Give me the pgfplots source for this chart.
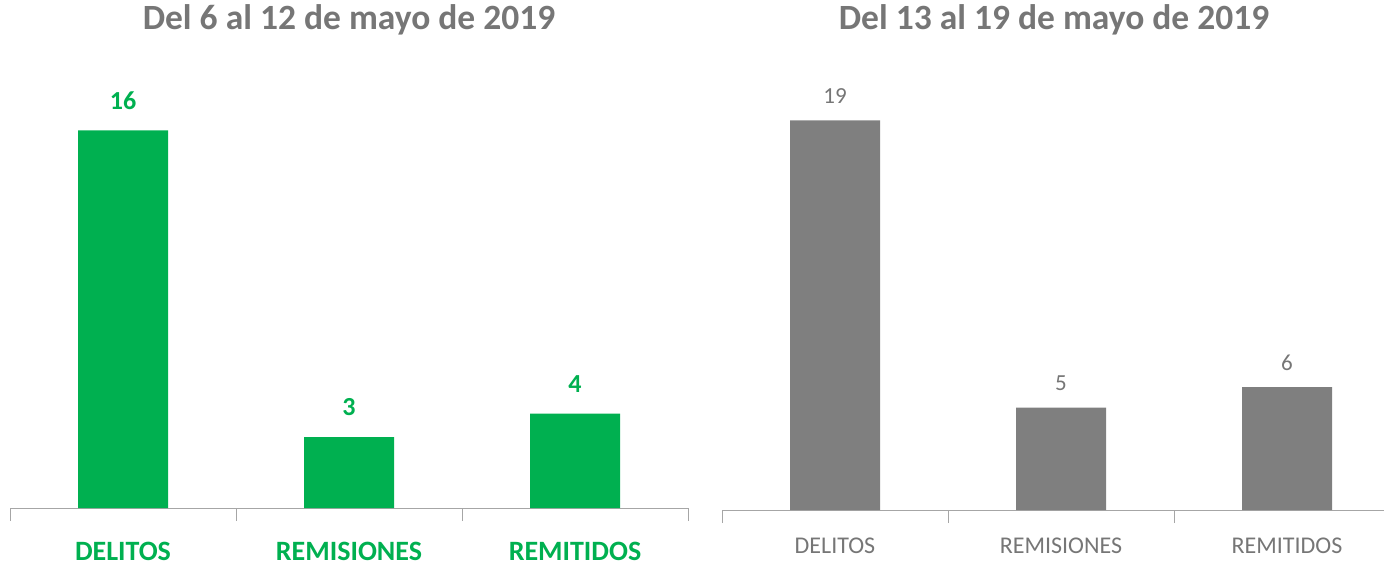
\documentclass[border=0pt]{standalone}
\usepackage{fontspec}
\setmainfont{Carlito}
\usepackage{pgfplots}
\pgfplotsset{compat=1.18}
\definecolor{vgreen}{RGB}{0,176,80}
\definecolor{bgray}{RGB}{127,127,127}
\definecolor{tgray}{RGB}{118,118,118}
\definecolor{lgray}{RGB}{166,166,166}
\pgfplotsset{
  weekbars/.style={
    ybar, bar width=90pt,
    scale only axis, width=678pt,
    anchor=south west,
    xmin=-0.5, xmax=2.5, ymin=0, ymax=20,
    enlargelimits=false,
    axis x line*=bottom, axis y line=none,
    xtick={0,1,2},
    xticklabels={DELITOS,REMISIONES,REMITIDOS},
    minor xtick={-0.5,0.5,1.5,2.5},
    major tick length=0pt, minor tick length=13pt,
    tick align=outside,
    axis line style={lgray, line width=1pt},
    minor tick style={lgray, line width=1pt},
    /pgf/number format/assume math mode=true,
    nodes near coords,
  },
}
\begin{document}
\begin{tikzpicture}
\useasboundingbox (0,0) rectangle (1384pt,568pt);
% izquierda
\begin{axis}[weekbars,
    at={(10pt,60pt)}, height=472pt,
    xticklabel style={anchor=center, yshift=-43pt, text=vgreen,
      font=\fontsize{28}{30}\selectfont\bfseries},
    nodes near coords style={anchor=center, yshift=30pt, text=vgreen,
      font=\fontsize{26}{28}\selectfont\bfseries},
  ]
  \addplot[fill=vgreen, draw=none] coordinates {(0,16) (1,3) (2,4)};
\end{axis}
% derecha
\begin{axis}[weekbars,
    at={(722pt,58pt)}, height=410pt,
    xticklabel style={anchor=center, yshift=-36pt, text=tgray,
      font=\fontsize{24}{26}\selectfont},
    nodes near coords style={anchor=center, yshift=24pt, text=tgray,
      font=\fontsize{23}{25}\selectfont},
  ]
  \addplot[fill=bgray, draw=none] coordinates {(0,19) (1,5) (2,6)};
\end{axis}
\node[text=tgray, font=\fontsize{35.5}{38}\selectfont\bfseries] at (349pt,548pt) {Del 6 al 12 de mayo de 2019};
\node[text=tgray, font=\fontsize{35.5}{38}\selectfont\bfseries] at (1054pt,548pt) {Del 13 al 19 de mayo de 2019};
\end{tikzpicture}
\end{document}
